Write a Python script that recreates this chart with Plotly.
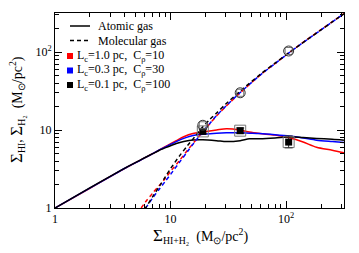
import plotly.graph_objects as go

# ---------------- data ----------------
tot_atomic = [1, 2, 3, 4.1, 5.5, 7, 8, 9.5, 11.2, 13, 15.6, 19, 25, 30.4, 40, 48, 59, 80, 107, 140, 183, 250, 316]
hi_red   = [1, 1.79, 2.52, 3.27, 4.12, 4.97, 5.55, 6.4, 7.3, 8.2, 9.0, 9.4, 10.0, 10.4, 10.0, 9.4, 9.0, 8.6, 7.95, 7.0, 6.0, 5.5, 5.1]
hi_blue  = [1, 1.8, 2.53, 3.28, 4.12, 4.97, 5.55, 6.3, 7.1, 7.8, 8.5, 8.8, 9.1, 9.2, 9.2, 9.1, 9.0, 8.7, 8.35, 7.9, 7.4, 7.1, 6.9]
hi_black = [1, 1.81, 2.55, 3.3, 4.14, 4.97, 5.5, 6.1, 6.7, 7.1, 7.45, 7.5, 7.3, 7.1, 7.3, 7.7, 7.7, 7.9, 8.2, 8.0, 7.8, 7.6, 7.4]

tot_mol  = [5.57, 6.08, 7, 8, 9, 10, 12, 14, 16, 19, 22, 25, 30, 40, 60, 80, 107, 150, 200, 250, 316]
h2_red   = [1.0, 1.2, 1.55, 1.95, 2.4, 2.95, 4.1, 5.5, 7.0, 9.5, 12.2, 15.2, 20.0, 30.0, 51, 71, 99, 143, 193, 244, 311]
h2_blue  = [0.85, 1.0, 1.35, 1.75, 2.2, 2.7, 3.9, 5.3, 6.9, 9.5, 12.3, 15.3, 20.2, 30.2, 51, 71, 99, 142, 192, 243, 309]
h2_black = [0.8, 1.0, 1.4, 1.9, 2.5, 3.2, 4.7, 6.3, 8.0, 11.0, 13.8, 16.5, 21.5, 31.5, 52, 72, 99, 142, 192, 243, 309]

obs_x      = [19, 40, 105]
obs_hi     = [9.6, 9.8, 7.0]
obs_hi_up  = [0.6, 0.8, 1.4]
obs_hi_dn  = [0.6, 0.8, 1.1]
obs_h2     = [11.5, 30, 103]

legend_lines   = ["Atomic gas", "Molecular gas"]
legend_models  = ["L<sub>c</sub>=1.0 pc,  C<sub>ρ</sub>=10",
                  "L<sub>c</sub>=0.3 pc,  C<sub>ρ</sub>=30",
                  "L<sub>c</sub>=0.1 pc,  C<sub>ρ</sub>=100"]
model_colors   = ["#ff0000", "#0000ff", "#000000"]

major_vals = [1, 10, 100]
major_text = ["1", "10", "10<sup>2</sup>"]
minor_vals = [m * d for d in (1, 10, 100) for m in range(2, 10) if m * d < 320]

FONT = "Times New Roman, Liberation Serif, serif"

# page body has an 8px margin -> compensate
OFF = 8
W, H = 359 - OFF, 253 - OFF
L, R, T, B = 55 - OFF, 15, 13 - OFF, 45

fig = go.Figure()

for hi, c in zip([hi_red, hi_blue, hi_black], model_colors):
    fig.add_trace(go.Scatter(x=tot_atomic, y=hi, mode="lines",
                             line=dict(color=c, width=1.5, shape="spline", smoothing=0.8),
                             showlegend=False))
for h2, c in zip([h2_red, h2_blue, h2_black], model_colors):
    fig.add_trace(go.Scatter(x=tot_mol, y=h2, mode="lines",
                             line=dict(color=c, width=1.5, dash="4px,3px", shape="spline", smoothing=0.8),
                             showlegend=False))

# observations
fig.add_trace(go.Scatter(x=obs_x, y=obs_hi, mode="markers",
                         marker=dict(symbol="square-open", size=11, color="#777777", line=dict(width=1)),
                         showlegend=False))
fig.add_trace(go.Scatter(x=obs_x, y=obs_hi, mode="markers",
                         marker=dict(symbol="square", size=7, color="black"),
                         error_y=dict(type="data", symmetric=False, array=obs_hi_up, arrayminus=obs_hi_dn,
                                      color="#333333", thickness=1, width=4),
                         showlegend=False))
fig.add_trace(go.Scatter(x=obs_x, y=obs_h2, mode="markers",
                         marker=dict(symbol="square-open", size=7, color="#777777", line=dict(width=1)),
                         showlegend=False))
fig.add_trace(go.Scatter(x=obs_x, y=obs_h2, mode="markers",
                         marker=dict(symbol="circle-open", size=10, color="#333333", line=dict(width=1)),
                         showlegend=False))

# screen-pixel -> paper helpers (plot area on screen: x 55..344, y 13..208)
X0, X1, Y0, Y1 = 55, 344, 13, 208
def px(xp):
    return (xp - X0) / (X1 - X0)
def py(yp):
    return (Y1 - yp) / (Y1 - Y0)

anns, shapes = [], []
for i, (txt, dash) in enumerate(zip(legend_lines, ["solid", "4px,3px"])):
    yy = 26 + 14.5 * i
    shapes.append(dict(type="line", xref="paper", yref="paper",
                       x0=px(70), x1=px(90), y0=py(yy), y1=py(yy),
                       line=dict(color="black", width=1.5, dash=dash)))
    anns.append(dict(text=txt, xref="paper", yref="paper", x=px(96), y=py(yy),
                     xanchor="left", yanchor="middle", showarrow=False,
                     font=dict(family=FONT, size=12, color="black")))
for i, (txt, c) in enumerate(zip(legend_models, model_colors)):
    yy = 56 + 14.5 * i
    shapes.append(dict(type="rect", xref="paper", yref="paper",
                       x0=px(67), x1=px(73), y0=py(yy - 3), y1=py(yy + 3),
                       fillcolor=c, line=dict(width=0)))
    anns.append(dict(text=txt, xref="paper", yref="paper", x=px(75), y=py(yy),
                     xanchor="left", yanchor="middle", showarrow=False,
                     font=dict(family=FONT, size=12, color="black")))

anns.append(dict(text="<span style='font-size:17px'>Σ</span><sub>HI+H₂</sub>  (M<sub>⊙</sub>/pc<sup>2</sup>)",
                 xref="paper", yref="paper", x=px(200), y=py(236), xanchor="center", yanchor="middle",
                 showarrow=False, font=dict(family=FONT, size=14, color="black")))
anns.append(dict(text="<span style='font-size:17px'>Σ</span><sub>HI</sub>, <span style='font-size:17px'>Σ</span><sub>H₂</sub>  (M<sub>⊙</sub>/pc<sup>2</sup>)",
                 xref="paper", yref="paper", x=px(17), y=py(110), xanchor="center", yanchor="middle",
                 textangle=-90, showarrow=False, font=dict(family=FONT, size=14, color="black")))

axis_common = dict(type="log", range=[0, 2.5], showgrid=False, zeroline=False,
                   showline=True, linecolor="black", linewidth=1, mirror="ticks",
                   ticks="inside", ticklen=7, tickcolor="black", tickwidth=1,
                   tickvals=major_vals, ticktext=major_text,
                   tickfont=dict(family=FONT, size=12, color="black"),
                   minor=dict(tickvals=minor_vals, ticks="inside", ticklen=4,
                              tickcolor="black", showgrid=False))

fig.update_layout(width=W, height=H, margin=dict(l=L, r=R, t=T, b=B),
                  paper_bgcolor="white", plot_bgcolor="white",
                  xaxis=axis_common, yaxis=axis_common,
                  annotations=anns, shapes=shapes, showlegend=False)

fig.write_html("out.html")
